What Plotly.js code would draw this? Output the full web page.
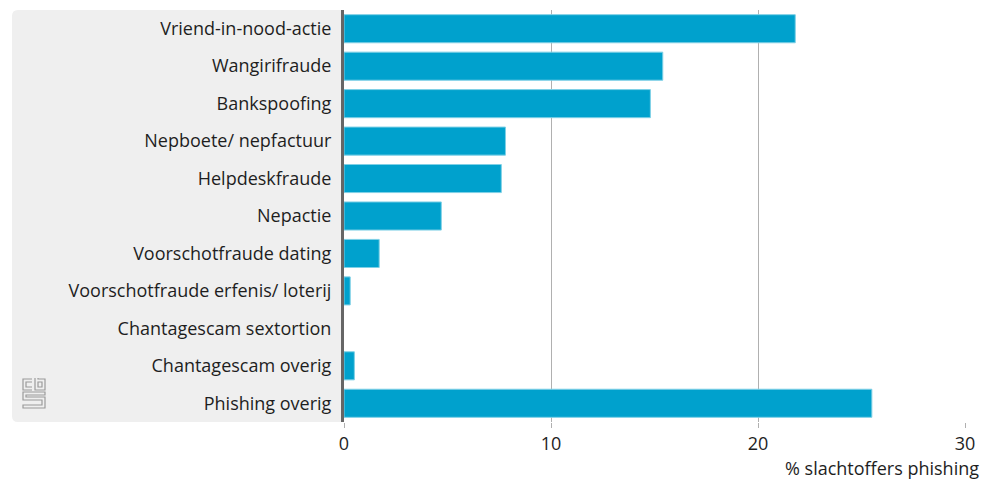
<!DOCTYPE html>
<html><head><meta charset="utf-8">
<script src="https://cdn.plot.ly/plotly-3.0.1.min.js"></script>
<style>html,body{margin:0;padding:0;background:#fff}</style>
</head><body>
<div id="chart" style="width:988px;height:479px"></div>
<script>
const categories = ["Vriend-in-nood-actie","Wangirifraude","Bankspoofing","Nepboete/ nepfactuur","Helpdeskfraude","Nepactie","Voorschotfraude dating","Voorschotfraude erfenis/ loterij","Chantagescam sextortion","Chantagescam overig","Phishing overig"];
const values = [21.8, 15.4, 14.8, 7.8, 7.6, 4.7, 1.7, 0.3, 0, 0.5, 25.5];
const xTicks = [0, 10, 20, 30];
const axisTitle = "% slachtoffers phishing";

const W = 988, H = 479, L = 344, R = 23, T = 10, B = 57;
const pw = W - L - R, ph = H - T - B;
const px = v => v / pw, py = v => v / ph;
const x0 = px(12 - L), rr = 6;
const panel = `M ${x0 + px(rr)} 0 L 0 0 L 0 1 L ${x0 + px(rr)} 1 Q ${x0} 1 ${x0} ${1 - py(rr)} L ${x0} ${py(rr)} Q ${x0} 0 ${x0 + px(rr)} 0 Z`;

const logo = 'data:image/svg+xml;utf8,' + encodeURIComponent(
 `<svg xmlns="http://www.w3.org/2000/svg" width="24" height="32" viewBox="0 0 24 32">
  <g fill="none" stroke="#9a9a9a" stroke-width="1.2">
   <path d="M10 2 H1 V13 H10"/><path d="M10 5 H4 V10 H10"/>
   <path d="M13 1 V13 H23 V2 H16 V1"/><path d="M16 5 H20 V10 H16 Z"/>
   <path d="M23 15 H1 V23 H20 V28 H1 V31 H23 V20 H4 V18 H23 Z"/>
  </g></svg>`);

const data = [{
  type: 'bar', orientation: 'h', y: categories, x: values,
  marker: {color: '#00a1cd', line: {color: '#7fd0e6', width: values.map(v => v > 0 ? 1 : 0)}},
  width: 0.75, hoverinfo: 'x+y'
}];
const fam = 'Open Sans, Noto Sans, sans-serif';
const layout = {
  width: W, height: H,
  margin: {l: L, r: R, t: T, b: B, pad: 0},
  paper_bgcolor: '#fff', plot_bgcolor: 'rgba(0,0,0,0)',
  font: {family: fam, size: 18, color: '#1e1e1e'},
  showlegend: false,
  xaxis: {range: [0, 30], tickvals: xTicks, ticktext: xTicks.map(String), showgrid: true, gridcolor: '#b0b0b0', gridwidth: 1,
          zeroline: false, ticks: 'outside', ticklen: 5, tickcolor: '#b0b0b0', tickfont: {size: 18, color: '#1e1e1e'}, fixedrange: true},
  yaxis: {autorange: 'reversed', showline: true, linecolor: '#666', linewidth: 3, ticks: '', ticklabelstandoff: 6,
          tickfont: {size: 18, color: '#1e1e1e'}, showgrid: false, zeroline: false, fixedrange: true},
  shapes: [{type: 'path', xref: 'paper', yref: 'paper', path: panel, fillcolor: '#efefef', line: {width: 0}, layer: 'below'}],
  images: [{source: logo, xref: 'paper', yref: 'paper', x: px(22 - L), y: 1 - py(377 - T), sizex: px(24), sizey: py(32), xanchor: 'left', yanchor: 'top', sizing: 'stretch', layer: 'above'}],
  annotations: [{text: axisTitle, xref: 'paper', yref: 'paper', x: px(981 - L), y: -py(468 - T - ph), xanchor: 'right', yanchor: 'middle', showarrow: false, font: {size: 18, color: '#1e1e1e'}}]
};
Plotly.newPlot('chart', data, layout, {displayModeBar: false, staticPlot: true});
</script>
</body></html>
